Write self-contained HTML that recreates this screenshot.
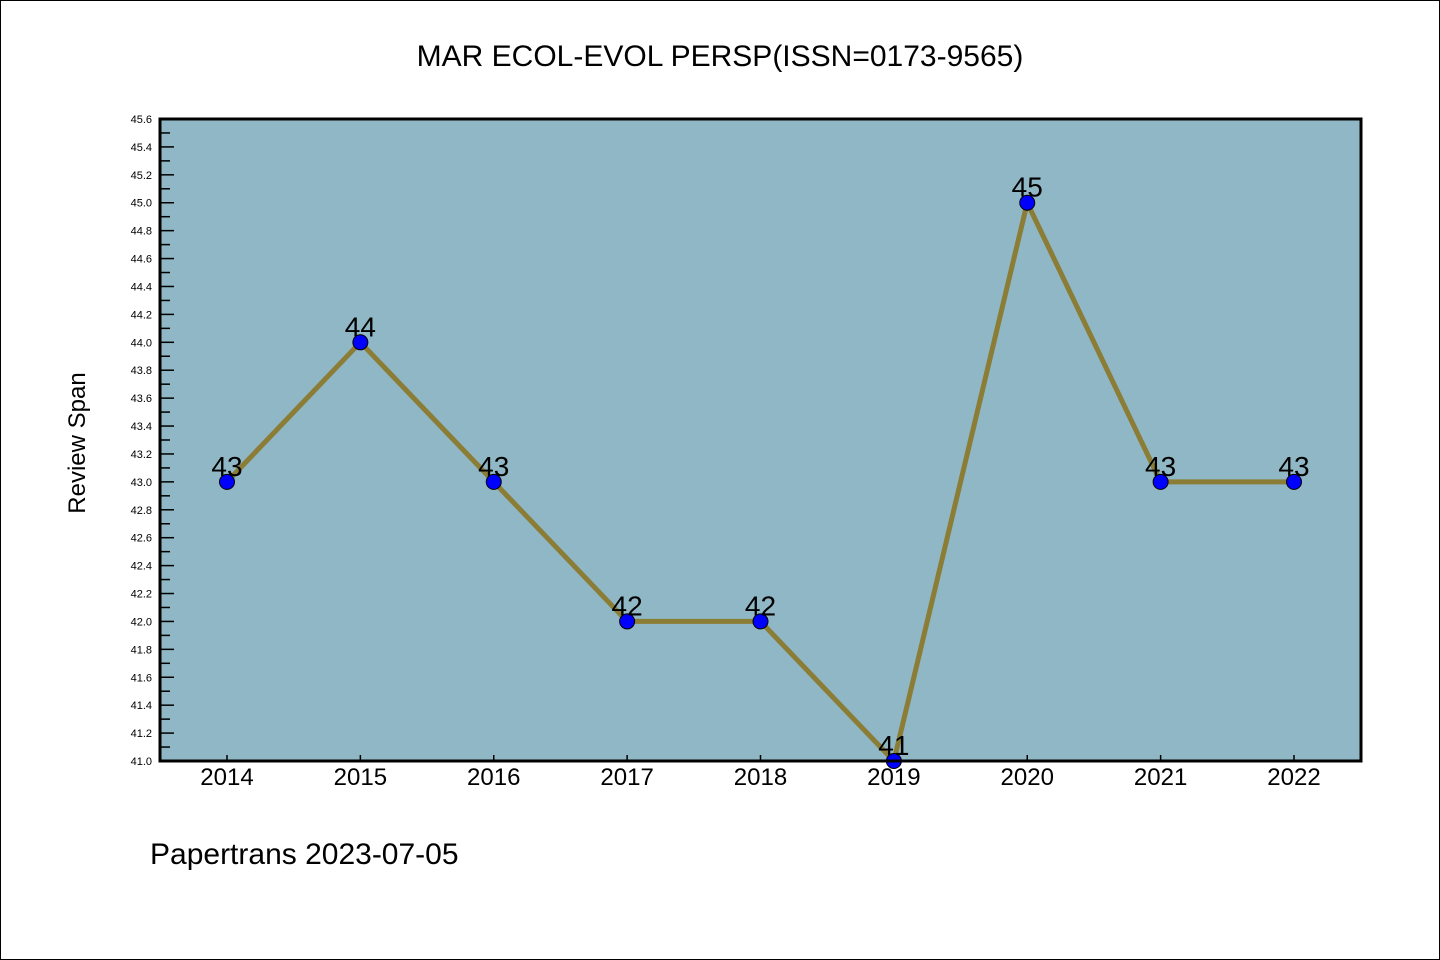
<!DOCTYPE html>
<html><head><meta charset="utf-8"><style>
html,body{margin:0;padding:0;background:#fff}
svg{display:block}
text{font-family:"Liberation Sans","DejaVu Sans",sans-serif}
</style></head><body>
<svg width="1440" height="960" viewBox="0 0 1440 960" xmlns="http://www.w3.org/2000/svg">
<rect x="0.5" y="0.5" width="1439" height="959" fill="#fff" stroke="#000" stroke-width="1"/>
<text x="720" y="66" text-anchor="middle" font-size="30" font-family="Liberation Mono, monospace">MAR ECOL-EVOL PERSP(ISSN=0173-9565)</text>
<rect x="160" y="119" width="1201" height="642" fill="#8fb7c5"/>
<g id="yticks"></g>
<g id="xticks"></g>
<g id="series"></g>
<rect x="160" y="119" width="1201" height="642" fill="none" stroke="#000" stroke-width="3"/>
<text x="85" y="443" text-anchor="middle" font-size="24" font-family="Liberation Mono, monospace" transform="rotate(-90 85 443)">Review Span</text>
<text x="150" y="864" font-size="30" font-family="Liberation Mono, monospace">Papertrans 2023-07-05</text>
</svg>
<script>
const categories = ['2014','2015','2016','2017','2018','2019','2020','2021','2022'];
const values = [43,44,43,42,42,41,45,43,43];
const yMin = 41.0, yMax = 45.6;
const NS='http://www.w3.org/2000/svg';
const L=160,R=1361,T=119,B=761;
function xs(i){return 227+i*(1294-227)/(categories.length-1);}
function ys(v){return B-(v-yMin)/(yMax-yMin)*(B-T);}
function mk(tag,attrs,parent){const e=document.createElementNS(NS,tag);for(const k in attrs)e.setAttribute(k,attrs[k]);parent.appendChild(e);return e;}
const yg=document.getElementById('yticks');
for(let k=0;k<=Math.round((yMax-yMin)*10);k++){
  const v=yMin+k*0.1, y=ys(v), major=k%2===0;
  const t=mk('line',{x1:L,x2:L+(major?14:10),y1:y,y2:y,stroke:'#000','stroke-width':1.5},yg);
  
  
  if(major){
    const lb=mk('text',{x:152,y:y+4,'text-anchor':'end','font-size':11},yg);
    lb.textContent=v.toFixed(1);
    
    
  }
}
const xg=document.getElementById('xticks');
categories.forEach((c,i)=>{
  const x=xs(i);
  const t=mk('line',{x1:x,x2:x,y1:B,y2:B-6,stroke:'#000','stroke-width':1.5},xg);
  
  
  const lb=mk('text',{x:x,y:785,'text-anchor':'middle','font-size':24},xg);
  lb.textContent=c;
  
  
});
const sg=document.getElementById('series');
const pl=mk('polyline',{points:values.map((v,i)=>xs(i)+','+ys(v)).join(' '),fill:'none',stroke:'#8b7d35','stroke-width':5,'stroke-linejoin':'round'},sg);


values.forEach((v,i)=>{
  const c=mk('circle',{cx:xs(i),cy:ys(v),r:7.5,fill:'#0000ff',stroke:'#000','stroke-width':1},sg);
  
  
  const lb=mk('text',{x:xs(i),y:ys(v)-6,'text-anchor':'middle','font-size':28},sg);
  lb.textContent=String(v);
  
  
});
</script>
</body></html>
